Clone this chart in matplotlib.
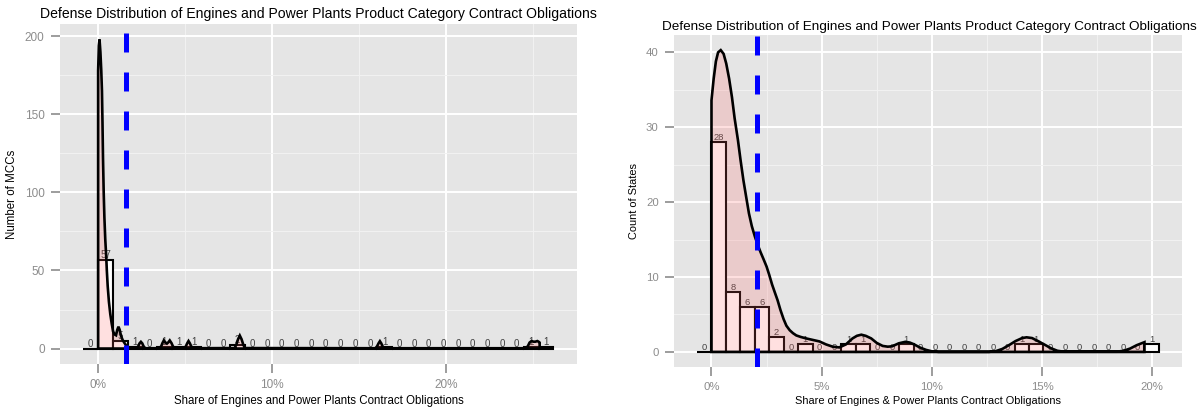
import numpy as np
import matplotlib
matplotlib.use('Agg')
import matplotlib.pyplot as plt
from matplotlib.ticker import MultipleLocator, FuncFormatter

plt.rcParams['font.family'] = ['Liberation Sans', 'DejaVu Sans']

TITLE = 'Defense Distribution of Engines and Power Plants Product Category Contract Obligations'

# --- MCC level histogram (shares in percent) ---
mcc_bin_start = -0.845
mcc_bin_width = 0.845
mcc_counts = [0, 57, 5, 1, 0, 1, 1, 1, 0, 0, 2,
              0, 0, 0, 0, 0, 0, 0, 0, 0, 1,
              0, 0, 0, 0, 0, 0, 0, 0, 0, 1, 1]
mcc_mean = 1.6

# density curve on the count scale
mcc_dens_x = [0.00, 0.04, 0.08, 0.13, 0.18, 0.22, 0.25, 0.28, 0.32, 0.36, 0.41,
              0.46, 0.50, 0.55, 0.62, 0.70, 0.78, 0.86, 0.95, 1.03, 1.10, 1.17,
              1.24, 1.32, 1.41, 1.50, 1.60, 1.70, 1.80, 1.90, 2.05,
              2.21, 2.31, 2.38, 2.46, 2.54, 2.61, 2.71,
              3.53, 3.63, 3.70, 3.78, 3.86, 3.96, 4.04, 4.12, 4.22, 4.30, 4.38,
              4.45, 4.55, 4.95, 5.05, 5.12, 5.20, 5.28, 5.35, 5.45,
              7.85, 7.95, 8.05, 8.15, 8.25, 8.35, 8.45,
              15.95, 16.05, 16.13, 16.21, 16.29, 16.36, 16.46,
              24.60, 24.72, 24.82, 24.93, 25.05, 25.15, 25.27, 25.35, 25.40]
mcc_dens_y = [178, 194, 198, 190, 178, 165, 145, 122, 100, 84, 70,
              60, 50, 40, 30, 22, 16, 11, 9, 8.5, 12, 14,
              12, 8, 5.5, 3.8, 2.2, 1.2, 0.6, 0.3, 0.1,
              0.3, 1.5, 3.3, 4.3, 3.3, 1.5, 0.2,
              0.2, 1.5, 3.5, 5.2, 4.0, 3.2, 4.0, 5.2, 3.5, 1.5, 0.4,
              0.1, 0.0, 0.2, 1.5, 3.3, 4.8, 3.3, 1.5, 0.2,
              0.3, 2.5, 6.0, 8.3, 6.0, 2.5, 0.3,
              0.2, 1.5, 3.3, 4.7, 3.3, 1.5, 0.2,
              0.2, 1.5, 3.8, 4.8, 4.4, 4.4, 4.8, 4.3, 3.8]

# --- State level histogram (shares in percent) ---
state_bin_start = -0.655
state_bin_width = 0.655
state_counts = [0, 28, 8, 6, 6, 2, 0, 1, 0, 0, 1,
                1, 0, 0, 1, 0, 0, 0, 0, 0, 0,
                0, 1, 1, 0, 0, 0, 0, 0, 0, 0, 1]
state_mean = 2.07

state_dens_x = [0.00, 0.10, 0.20, 0.30, 0.42, 0.55, 0.67, 0.80, 0.93, 1.05,
                1.20, 1.32, 1.45, 1.58, 1.70, 1.83, 1.97, 2.10, 2.23, 2.36,
                2.50, 2.62, 2.75, 2.88, 3.00, 3.13, 3.27, 3.40, 3.55, 3.70,
                3.85, 4.05, 4.30, 4.60, 4.90, 5.20, 5.50, 5.80, 6.10, 6.40,
                6.60, 6.80, 7.00, 7.25, 7.50, 7.77, 8.00, 8.20, 8.50, 8.80,
                9.00, 9.20, 9.45, 9.74, 10.00, 10.30, 12.60, 12.90, 13.20, 13.50,
                13.80, 14.10, 14.30, 14.55, 14.85, 15.10, 15.40, 15.70, 16.00, 18.40,
                18.70, 19.00, 19.30, 19.65]
state_dens_y = [33.6, 36.5, 38.8, 40.0, 40.3, 39.8, 38.5, 36.5, 34.0, 31.2,
                28.3, 25.6, 22.9, 20.6, 18.5, 16.8, 15.4, 14.3, 13.3, 12.4,
                11.4, 10.3, 9.0, 7.9, 6.9, 5.6, 4.4, 3.5, 2.9, 2.5,
                2.2, 2.0, 1.8, 1.6, 1.4, 1.0, 0.7, 0.6, 1.0, 1.8,
                2.15, 2.3, 2.15, 1.8, 1.2, 0.8, 0.7, 0.75, 1.15, 1.35,
                1.25, 1.0, 0.6, 0.27, 0.08, 0.01, 0.01, 0.1, 0.4, 0.9,
                1.45, 1.85, 1.95, 1.85, 1.4, 1.0, 0.5, 0.15, 0.03, 0.03,
                0.15, 0.45, 0.9, 1.3]

BG = '#E5E5E5'
TICK_GREY = '#8C8C8C'


def draw_panel(ax, bin_start, bin_width, counts, dens_x, dens_y, mean_val,
               x_major, y_major, xlabel, ylabel, title_pad, fs=1.0, title_x=0.5):
    counts = np.asarray(counts)
    lefts = bin_start + bin_width * np.arange(len(counts))
    centers = lefts + bin_width / 2

    ax.bar(lefts, counts, width=bin_width, align='edge', color='white',
           edgecolor='black', linewidth=1.5, zorder=2)
    for cx, c in zip(centers, counts):
        ax.text(cx, c, str(c), ha='center', va='bottom', fontsize=7 * fs,
                color='#404040', zorder=2.5)

    px = np.r_[dens_x[0], dens_x, dens_x[-1]]
    py = np.r_[0, dens_y, 0]
    ax.fill(px, py, facecolor=(1, 0.4, 0.4, 0.2), edgecolor='black',
            linewidth=1.9, zorder=3)

    # ggplot-style 5% expansion on both scales
    x0, x1 = lefts[0], lefts[-1] + bin_width
    ymax = max(max(dens_y), counts.max())
    ax.set_xlim(x0 - 0.05 * (x1 - x0), x1 + 0.05 * (x1 - x0))
    ax.set_ylim(-0.05 * ymax, 1.05 * ymax)

    lo, hi = ax.get_ylim()
    ax.plot([mean_val, mean_val], [lo, hi], color='blue', linewidth=3.6,
            linestyle=(0, (3.8, 4.0)), solid_capstyle='butt',
            dash_capstyle='butt', zorder=4)

    ax.set_facecolor(BG)
    for s in ax.spines.values():
        s.set_visible(False)
    ax.xaxis.set_major_locator(MultipleLocator(x_major))
    ax.xaxis.set_minor_locator(MultipleLocator(x_major / 2))
    ax.yaxis.set_major_locator(MultipleLocator(y_major))
    ax.yaxis.set_minor_locator(MultipleLocator(y_major / 2))
    ax.xaxis.set_major_formatter(FuncFormatter(lambda v, p: f'{v:.0f}%'))
    ax.grid(which='major', color='white', linewidth=1.4)
    ax.grid(which='minor', color='#F2F2F2', linewidth=0.7)
    ax.set_axisbelow(True)
    ax.tick_params(which='major', length=6.5, width=1.2, color=TICK_GREY,
                   labelcolor=TICK_GREY, labelsize=8.5 * fs, pad=4.5)
    ax.tick_params(which='minor', length=0)

    ax.set_xlabel(xlabel, fontsize=8.3 * fs, labelpad=3)
    ax.set_ylabel(ylabel, fontsize=8.3 * fs, labelpad=5)
    ax.set_title(TITLE, fontsize=10.1 * fs, pad=title_pad, x=title_x)


fig = plt.figure(figsize=(11.99, 4.12), dpi=100)
ax1 = fig.add_axes([0.0500, 0.1165, 0.4312, 0.8252])
ax2 = fig.add_axes([0.5621, 0.1092, 0.4237, 0.8058])

draw_panel(ax1, mcc_bin_start, mcc_bin_width, mcc_counts, mcc_dens_x,
           mcc_dens_y, mcc_mean, 10, 50,
           'Share of Engines and Power Plants Contract Obligations',
           'Number of MCCs', 4.5)
draw_panel(ax2, state_bin_start, state_bin_width, state_counts, state_dens_x,
           state_dens_y, state_mean, 5, 10,
           'Share of Engines & Power Plants Contract Obligations',
           'Count of States', 3.5, fs=0.96, title_x=0.503)

fig.savefig('out.png', dpi=100)
